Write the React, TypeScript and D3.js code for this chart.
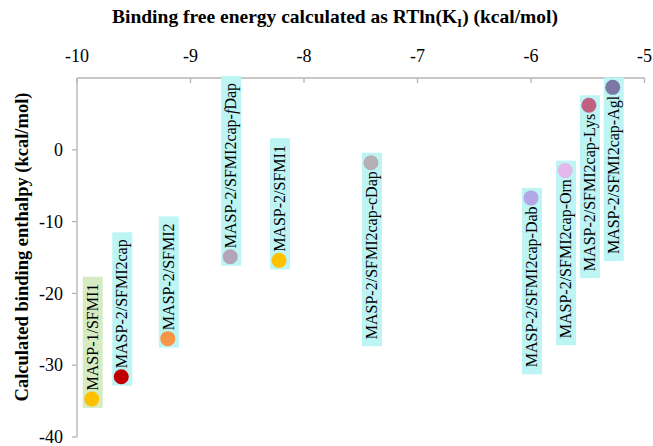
import React, { useEffect, useRef } from "react";
import * as d3 from "d3";

const labels = [
  "MASP-1/SFMI1",
  "MASP-2/SFMI2cap",
  "MASP-2/SFMI2",
  "MASP-2/SFMI2cap-fDap",
  "MASP-2/SFMI1",
  "MASP-2/SFMI2cap-cDap",
  "MASP-2/SFMI2cap-Dab",
  "MASP-2/SFMI2cap-Orn",
  "MASP-2/SFMI2cap-Lys",
  "MASP-2/SFMI2cap-Agl",
];
const freeEnergy = [-9.87, -9.61, -9.2, -8.65, -8.22, -7.41, -6.0, -5.7, -5.49, -5.28];
const enthalpy = [-34.7, -31.6, -26.3, -14.9, -15.4, -1.8, -6.7, -2.9, 6.2, 8.7];
const pointColors = [
  "#ffc000",
  "#c00000",
  "#f79646",
  "#b3a5b8",
  "#ffc000",
  "#b5b0b3",
  "#b4a7e5",
  "#e4b8ec",
  "#c0607f",
  "#7b78a6",
];
const labelSide = ["above", "above", "above", "above", "above", "below", "below", "below", "below", "below"];
const boxColors = [
  "#d7ebc3",
  "#bdf4f4",
  "#bdf4f4",
  "#bdf4f4",
  "#bdf4f4",
  "#bdf4f4",
  "#bdf4f4",
  "#bdf4f4",
  "#bdf4f4",
  "#bdf4f4",
];
const xTicks = [-10, -9, -8, -7, -6, -5];
const yTicks = [-40, -30, -20, -10, 0];

const W = 653;
const H = 446;
const SERIF = "'Liberation Serif', 'Times New Roman', serif";

export default function App() {
  const ref = useRef<SVGSVGElement>(null);

  useEffect(() => {
    const svg = d3.select(ref.current);
    svg.selectAll("*").remove();

    const x = d3.scaleLinear().domain([-10, -5]).range([77, 644.5]);
    const y = d3.scaleLinear().domain([-40, 10]).range([437, 78]);
    const axisColor = "#b4b4b4";

    // top x axis
    svg.append("line")
      .attr("x1", x(-10)).attr("x2", x(-5))
      .attr("y1", y(10)).attr("y2", y(10))
      .attr("stroke", axisColor).attr("stroke-width", 1.3);
    svg.selectAll(".xt").data(xTicks).enter().append("line")
      .attr("x1", (d) => x(d)).attr("x2", (d) => x(d))
      .attr("y1", y(10)).attr("y2", y(10) + 5)
      .attr("stroke", axisColor).attr("stroke-width", 1.3);
    svg.selectAll(".xl").data(xTicks).enter().append("text")
      .attr("x", (d) => x(d)).attr("y", 62)
      .attr("text-anchor", "middle")
      .attr("font-family", SERIF).attr("font-size", 18)
      .attr("fill", "#000")
      .text((d) => String(d));

    // left y axis
    svg.append("line")
      .attr("x1", x(-10)).attr("x2", x(-10))
      .attr("y1", y(10)).attr("y2", y(-40))
      .attr("stroke", axisColor).attr("stroke-width", 1.3);
    svg.selectAll(".yt").data(yTicks).enter().append("line")
      .attr("x1", x(-10) - 5).attr("x2", x(-10))
      .attr("y1", (d) => y(d)).attr("y2", (d) => y(d))
      .attr("stroke", axisColor).attr("stroke-width", 1.3);
    svg.selectAll(".yl").data(yTicks).enter().append("text")
      .attr("x", 63).attr("y", (d) => y(d))
      .attr("dy", "0.34em")
      .attr("text-anchor", "end")
      .attr("font-family", SERIF).attr("font-size", 18)
      .attr("fill", "#000")
      .text((d) => String(d));

    // titles
    const t = svg.append("text")
      .attr("x", 335).attr("y", 23)
      .attr("text-anchor", "middle")
      .attr("font-family", SERIF).attr("font-size", 19.5)
      .attr("font-weight", "bold").attr("fill", "#000");
    t.append("tspan").text("Binding free energy calculated as RTln(K");
    t.append("tspan").attr("font-size", 13).attr("dy", 4).text("I");
    t.append("tspan").attr("dy", -4).text(") (kcal/mol)");

    svg.append("text")
      .attr("transform", `translate(28,247) rotate(-90)`)
      .attr("text-anchor", "middle")
      .attr("font-family", SERIF).attr("font-size", 18.5)
      .attr("font-weight", "bold").attr("fill", "#000")
      .text("Calculated binding enthalpy (kcal/mol)");

    // data labels with boxes
    const r = 7.5;
    const boxW = 20;
    labels.forEach((lab, i) => {
      const px = x(freeEnergy[i]);
      const py = y(enthalpy[i]);
      const g = svg.append("g");
      const rect = g.append("rect").attr("fill", boxColors[i]);
      const above = labelSide[i] === "above";
      const startY = above ? py - r - 1 : py + r + 1;
      const txt = g.append("text")
        .attr("font-family", SERIF).attr("font-size", 16)
        .attr("fill", "#000")
        .attr("text-anchor", above ? "start" : "end")
        .attr("transform", `translate(${px + 6},${startY}) rotate(-90)`);
      if (lab.endsWith("-fDap")) {
        txt.append("tspan").text("MASP-2/SFMI2cap-");
        txt.append("tspan").attr("font-style", "italic").text("f");
        txt.append("tspan").text("Dap");
      } else {
        txt.text(lab);
      }
      const len = (txt.node() as SVGTextElement).getComputedTextLength();
      let top: number, bottom: number;
      if (above) {
        bottom = py + 9;
        top = startY - len - 7;
      } else {
        top = py - 10;
        bottom = startY + len + 7;
      }
      rect.attr("x", px - boxW / 2 + 1).attr("width", boxW)
        .attr("y", top).attr("height", bottom - top);
      g.append("circle")
        .attr("cx", px).attr("cy", py).attr("r", r)
        .attr("fill", pointColors[i]);
    });
  }, []);

  return (
    <svg
      ref={ref}
      width={W}
      height={H}
      style={{ position: "absolute", left: 0, top: 0, background: "#fff", display: "block" }}
    />
  );
}
